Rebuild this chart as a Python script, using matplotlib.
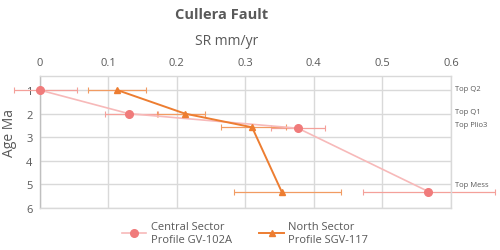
import matplotlib
matplotlib.use("Agg")
import matplotlib.pyplot as plt
from matplotlib.lines import Line2D

# Data
central_label = "Central Sector\nProfile GV-102A"
north_label = "North Sector\nProfile SGV-117"
central_sr = [0.0, 0.130, 0.377, 0.567]
central_age = [1.0, 2.0, 2.62, 5.3]
central_err_lo = [0.037, 0.034, 0.039, 0.096]
central_err_hi = [0.054, 0.043, 0.040, 0.097]
north_sr = [0.113, 0.212, 0.310, 0.353]
north_age = [1.0, 2.0, 2.58, 5.3]
north_err_lo = [0.043, 0.041, 0.046, 0.069]
north_err_hi = [0.043, 0.030, 0.049, 0.086]
horizons = ["Top Q2", "Top Q1", "Top Plio3", "Top Mess"]
horizon_y = [0.93, 1.92, 2.47, 5.02]
x_ticks = [0, 0.1, 0.2, 0.3, 0.4, 0.5, 0.6]
x_ticklabels = ["0", "0.1", "0.2", "0.3", "0.4", "0.5", "0.6"]
y_ticks = [1, 2, 3, 4, 5, 6]

plt.rcParams['font.family'] = ['Open Sans', 'DejaVu Sans']
gray = "#595959"

fig = plt.figure(figsize=(5.0, 2.51), dpi=100)
ax = fig.add_axes([0.079, 0.167, 0.823, 0.526])

c_line = "#F7B9B9"
c_mark = "#F07B7B"
c_err = "#F4A09A"
n_line = "#ED7D31"
n_err = "#F19B62"

ax.plot(central_sr, central_age, color=c_line, lw=1.2, zorder=3)
ax.errorbar(central_sr, central_age, xerr=[central_err_lo, central_err_hi], fmt='none',
            ecolor=c_err, elinewidth=0.9, capsize=2, capthick=0.8, zorder=2, clip_on=False)
ax.plot(central_sr, central_age, 'o', color=c_mark, ms=5.5, zorder=5, clip_on=False)

ax.plot(north_sr, north_age, color=n_line, lw=1.4, zorder=4)
ax.errorbar(north_sr, north_age, xerr=[north_err_lo, north_err_hi], fmt='none',
            ecolor=n_err, elinewidth=0.9, capsize=2, capthick=0.8, zorder=2, clip_on=False)
ax.plot(north_sr, north_age, '^', color=n_line, ms=4.5, zorder=6, clip_on=False)

ax.set_xlim(0, 0.6)
ax.set_ylim(6, 0.41)
ax.xaxis.tick_top()
ax.xaxis.set_label_position('top')
ax.set_xticks(x_ticks)
ax.set_xticklabels(x_ticklabels)
ax.set_yticks(y_ticks)
ax.tick_params(axis='both', length=0, colors=gray, labelsize=8, pad=5)
ax.tick_params(axis='x', pad=6)
ax.grid(True, color="#D9D9D9", lw=1.0)
ax.set_axisbelow(True)
for s in ax.spines.values():
    s.set_color("#D9D9D9")
    s.set_linewidth(1.0)
ax.spines['left'].set_color("#BFBFBF")

ax.set_xlabel("SR mm/yr", fontsize=10, color=gray)
ax.set_ylabel("Age Ma", fontsize=10, color=gray)
ax.yaxis.set_label_coords(-0.055, 0.575)
ax.xaxis.set_label_coords(0.455, 1.24)

fig.text(0.443, 0.94, "Cullera Fault", fontsize=10.5, fontweight='bold', color=gray,
         ha='center', va='center')

trans = ax.get_yaxis_transform()
for name, yy in zip(horizons, horizon_y):
    ax.text(1.01, yy, name, transform=trans, fontsize=5.5, color=gray, va='center',
            ha='left', clip_on=False)

handles = [Line2D([], [], color=c_line, marker='o', mfc=c_mark, mec=c_mark, ms=5.5, lw=1.2),
           Line2D([], [], color=n_line, marker='^', ms=4.5, lw=1.4)]
leg = fig.legend(handles, [central_label, north_label], loc='lower center', ncol=2,
                 bbox_to_anchor=(0.49, -0.02), frameon=False, fontsize=8,
                 handlelength=2.2, columnspacing=2.5, handletextpad=0.4)
for t in leg.get_texts():
    t.set_color(gray)

fig.savefig("out.png", dpi=100)
